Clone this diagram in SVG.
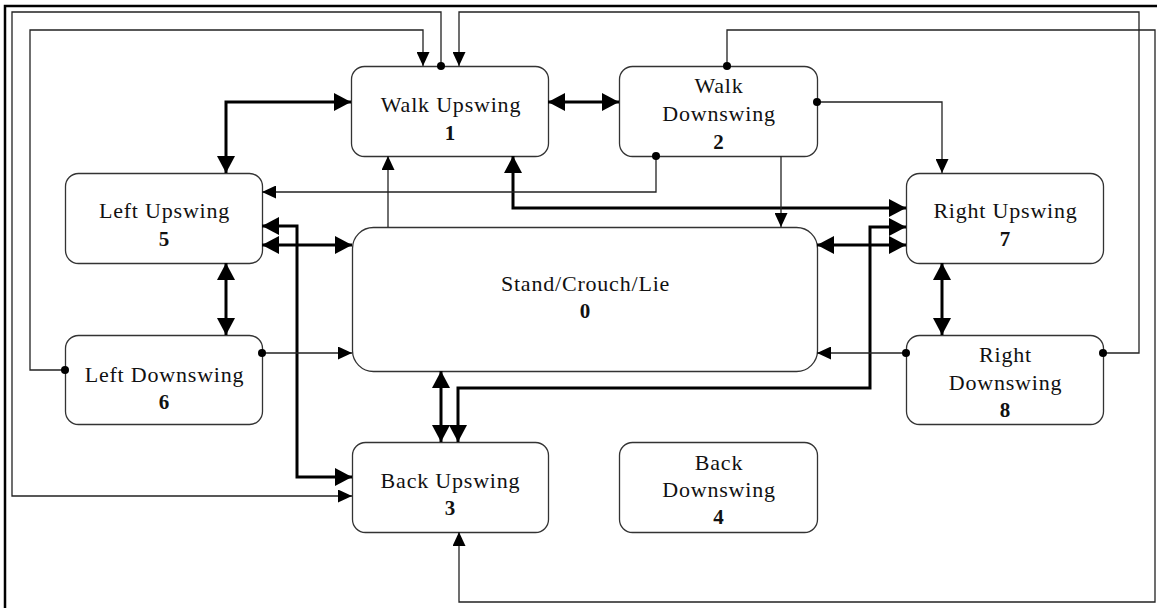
<svg xmlns="http://www.w3.org/2000/svg" width="1157" height="608" viewBox="0 0 1157 608">
<defs>
<style>
.box{fill:#fff;stroke:#333;stroke-width:1.3}
.t{font-family:"Liberation Serif","Times New Roman",serif;font-size:22px;letter-spacing:0.8px;fill:#111;text-anchor:middle}
.n{font-family:"Liberation Serif","Times New Roman",serif;font-size:21px;font-weight:bold;fill:#111;text-anchor:middle}
.thick{fill:none;stroke:#000;stroke-width:3;marker-start:url(#at);marker-end:url(#at)}
.thin{fill:none;stroke:#222;stroke-width:1.3;marker-end:url(#an)}
.dot{marker-start:url(#dot)}
</style>
<marker id="at" markerUnits="userSpaceOnUse" viewBox="0 0 17 18" refX="17" refY="9" markerWidth="17" markerHeight="18" orient="auto-start-reverse"><path d="M0,0L17,9L0,18z" fill="#000"/></marker>
<marker id="an" markerUnits="userSpaceOnUse" viewBox="0 0 14 13" refX="14" refY="6.5" markerWidth="14" markerHeight="13" orient="auto"><path d="M0,0L14,6.5L0,13z" fill="#000"/></marker>
<marker id="dot" markerUnits="userSpaceOnUse" viewBox="0 0 10 10" refX="5" refY="5" markerWidth="10" markerHeight="10"><circle cx="5" cy="5" r="4" fill="#000"/></marker>
</defs>
<rect width="1157" height="608" fill="#fff"/>
<path d="M5,608V6H1157" fill="none" stroke="#000" stroke-width="2.5"/>

<g id="node-1"><rect class="box" x="351.5" y="66.5" width="197" height="90" rx="13"/><text class="t" x="451" y="112">Walk Upswing</text><text class="n" x="450" y="140">1</text></g>
<g id="node-2"><rect class="box" x="619.5" y="66.5" width="198" height="90" rx="13"/><text class="t" x="719" y="93">Walk</text><text class="t" x="719" y="121">Downswing</text><text class="n" x="718.5" y="149">2</text></g>
<g id="node-5"><rect class="box" x="65.5" y="173.5" width="197" height="90" rx="13"/><text class="t" x="164.5" y="218">Left Upswing</text><text class="n" x="164" y="246">5</text></g>
<g id="node-6"><rect class="box" x="65.5" y="335.5" width="197" height="89" rx="13"/><text class="t" x="164.5" y="382">Left Downswing</text><text class="n" x="164" y="409">6</text></g>
<g id="node-0"><rect class="box" x="352.5" y="227.5" width="465" height="144" rx="21"/><text class="t" x="585.5" y="291">Stand/Crouch/Lie</text><text class="n" x="585" y="318">0</text></g>
<g id="node-7"><rect class="box" x="906.5" y="173.5" width="197" height="90" rx="13"/><text class="t" x="1005.5" y="218">Right Upswing</text><text class="n" x="1005" y="246">7</text></g>
<g id="node-8"><rect class="box" x="906.5" y="335.5" width="197" height="89" rx="13"/><text class="t" x="1005.5" y="362">Right</text><text class="t" x="1005.5" y="390">Downswing</text><text class="n" x="1005" y="417">8</text></g>
<g id="node-3"><rect class="box" x="352.5" y="442.5" width="196" height="90" rx="13"/><text class="t" x="450.5" y="488">Back Upswing</text><text class="n" x="450" y="515">3</text></g>
<g id="node-4"><rect class="box" x="619.5" y="442.5" width="198" height="90" rx="13"/><text class="t" x="719" y="470">Back</text><text class="t" x="719" y="497">Downswing</text><text class="n" x="718.5" y="524">4</text></g>

<g id="connectors">
<path class="thick" d="M226,173V102H351"/>
<path class="thick" d="M548,102H619"/>
<path class="thick" d="M226,263V335"/>
<path class="thick" d="M942,263V335"/>
<path class="thick" d="M441,371V442"/>
<path class="thick" d="M458,442V388H870V227H906"/>
<path class="thick" d="M513,156V208H906"/>
<path class="thick" d="M817,245H906"/>
<path class="thick" d="M262,245H352"/>
<path class="thick" d="M262,226H297V477H352"/>
<path class="thin dot" d="M656,156V192H262"/>
<path class="thin" d="M388,227V156"/>
<path class="thin" d="M781,156V227"/>
<path class="thin dot" d="M817,102H942V173"/>
<path class="thin dot" d="M262,353H352"/>
<path class="thin dot" d="M906,353H817"/>
<path class="thin dot" d="M65,370H30V30H423V66"/>
<path class="thin dot" d="M441,66V12H12V496H352"/>
<path class="thin dot" d="M1103,353H1139V12H459V66"/>
<path class="thin dot" d="M727,66V30H1155V602H459V532"/>
</g>
</svg>
